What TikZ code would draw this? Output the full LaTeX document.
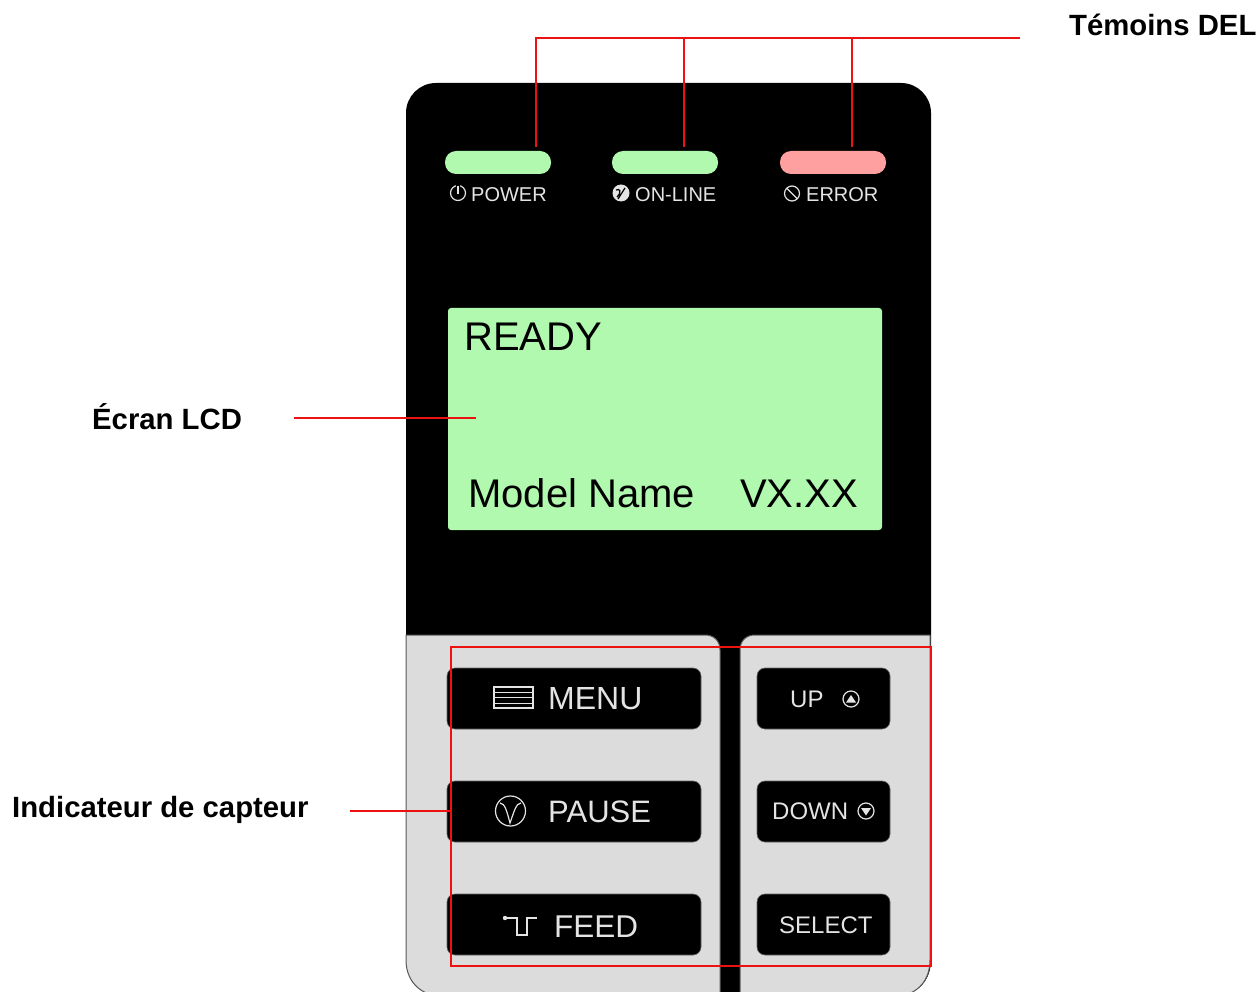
\documentclass[tikz,border=0pt]{standalone}
\usepackage{fontspec}
\setmainfont{Liberation Sans}
\newcommand\fsz[1]{\fontsize{#1}{#1}\selectfont}
\definecolor{ledgreen}{HTML}{B0F9AE}
\definecolor{ledred}{HTML}{FFA0A0}
\definecolor{panelgray}{HTML}{DCDCDC}
\definecolor{keytext}{HTML}{E4E4E4}
\definecolor{callout}{HTML}{EE1111}
\tikzset{
  px/.style={x=1pt,y=-1pt},
  ledbar/.style={inner sep=0pt,minimum width=106pt,minimum height=23pt,rounded corners=11pt},
  keybox/.style={fill=black,draw=black!60,line width=0.6pt,inner sep=0pt,minimum height=61pt,rounded corners=8pt},
  bigkey/.style={keybox,minimum width=254pt},
  smallkey/.style={keybox,minimum width=133pt},
  keylabel/.style={anchor=base west,inner sep=0pt,text=keytext},
  ledlabel/.style={anchor=base west,inner sep=0pt,text=keytext,font=\fsz{20}},
  lcdlabel/.style={anchor=base west,inner sep=0pt,text=black,font=\fsz{40}},
  notelabel/.style={anchor=base west,inner sep=0pt,font=\fsz{29.3}\bfseries},
  callline/.style={draw=callout,line width=1.5pt},
  icon/.style={draw=keytext,line width=1.2pt,fill=none}
}
\begin{document}
\begin{tikzpicture}[px]
\useasboundingbox (0,0) rectangle (1259,992);
\begin{scope}
\clip (0,0) rectangle (1259,992);
% panel body
\fill[black] (406,960) -- (406,113) arc[start angle=180,end angle=90,radius=30pt] -- (901,83) arc[start angle=90,end angle=0,radius=30pt] -- (931,960) .. controls (931,980) and (918,994) .. (899,996) -- (438,996) .. controls (419,994) and (406,980) .. (406,960) -- cycle;
% gray key areas
\path[fill=panelgray,draw=black!65,line width=1pt] (406,635) -- (705,635) .. controls (714,635) and (720,641) .. (720,650) -- (720,1000) -- (438,996) .. controls (419,994) and (406,980) .. (406,960) -- cycle;
\path[fill=panelgray,draw=black!65,line width=1pt] (740,1000) -- (740,650) .. controls (740,641) and (746,635) .. (755,635) -- (930,635) -- (930,960) .. controls (930,980) and (918,994) .. (899,996) -- cycle;
\end{scope}
% LEDs
\node[ledbar,fill=ledgreen] (ledpower) at (498,162.5) {};
\node[ledbar,fill=ledgreen] (ledonline) at (665,162.5) {};
\node[ledbar,fill=ledred] (lederror) at (833,162.5) {};
\node[ledlabel] (lblpower) at (471,201.5) {POWER};
\node[ledlabel] (lblonline) at (635,201.5) {ON-LINE};
\node[ledlabel] (lblerror) at (806,201.5) {ERROR};
% LED icons
\draw[icon] (458,193) circle[radius=7.5pt];
\draw[black,line width=3.5pt] (458,184) -- (458,189);
\draw[icon] (458,186) -- (458,194);
\fill[keytext] (621,193) circle[radius=8.5pt];
\draw[black,line width=1.2pt] (618,199) -- (625,188) (616,190) .. controls (620,188) and (622,192) .. (617,197);
\draw[icon] (792,193.5) circle[radius=7.5pt];
\draw[icon] (787,188.5) -- (797,198.5);
% LCD
\node[fill=ledgreen,inner sep=0pt,minimum width=434pt,minimum height=222pt,rounded corners=3pt] (lcd) at (665,419) {};
\node[lcdlabel] (lcdready) at (464,351) {READY};
\node[lcdlabel] (lcdmodel) at (468,507) {Model Name};
\node[lcdlabel] (lcdver) at (740,507) {VX.XX};
% keys
\node[bigkey] (menu) at (574,698.5) {};
\node[bigkey] (pause) at (574,811.5) {};
\node[bigkey] (feed) at (574,924.5) {};
\node[smallkey] (up) at (823.5,698.5) {};
\node[smallkey] (down) at (823.5,811.5) {};
\node[smallkey] (select) at (823.5,924.5) {};
\node[keylabel,font=\fsz{32}] (menutxt) at (548,709) {MENU};
\node[keylabel,font=\fsz{31}] (pausetxt) at (548,822) {PAUSE};
\node[keylabel,font=\fsz{31.5}] (feedtxt) at (554,937) {FEED};
\node[keylabel,font=\fsz{24}] (uptxt) at (790,707) {UP};
\node[keylabel,font=\fsz{24}] (downtxt) at (772,819) {DOWN};
\node[keylabel,font=\fsz{24}] (selecttxt) at (779,933) {SELECT};
% key icons
\draw[icon] (494,687) rectangle (533,708);
\draw[icon,line width=0.9pt] (494,692) -- (533,692) (494,697.5) -- (533,697.5) (494,703) -- (533,703);
\draw[icon] (510.5,811) circle[radius=15pt];
\draw[icon] (500,803) .. controls (505,803) and (507,812) .. (510,823) .. controls (514,812) and (516,803) .. (521,803);
\draw[icon] (505,918) -- (517,918) -- (517,935) -- (527,935) -- (527,918) -- (537,918);
\fill[keytext] (505,918) circle[radius=2.2pt];
\draw[icon] (851,699) circle[radius=8pt];
\fill[keytext] (846,702.5) -- (856,702.5) -- (851,695) -- cycle;
\draw[icon] (866,811) circle[radius=8pt];
\fill[keytext] (861,808) -- (871,808) -- (866,815.5) -- cycle;
% notes
\node[notelabel] (note1) at (1069,36) {Témoins DEL};
\node[notelabel] (note2) at (92,429) {Écran LCD};
\node[notelabel] (note3) at (12,817) {Indicateur de capteur};
% callouts
\coordinate (topend) at (1020,38);
\coordinate (topa) at (536,38);
\coordinate (topb) at (684,38);
\coordinate (topc) at (852,38);
\coordinate (enda) at (536,147);
\coordinate (endb) at (684,147);
\coordinate (endc) at (852,147);
\draw[callline] (topend) -- (topa) -- (enda);
\draw[callline] (topb) -- (endb);
\draw[callline] (topc) -- (endc);
\coordinate (lcdstart) at (294,418);
\coordinate (lcdend) at (476,418);
\draw[callline] (lcdstart) -- (lcdend);
\coordinate (senstart) at (350,811);
\coordinate (senend) at (451,811);
\draw[callline] (senstart) -- (senend);
\coordinate (boxa) at (451,647);
\coordinate (boxb) at (931,966);
\draw[callline] (boxa) rectangle (boxb);
\end{tikzpicture}
\end{document}
